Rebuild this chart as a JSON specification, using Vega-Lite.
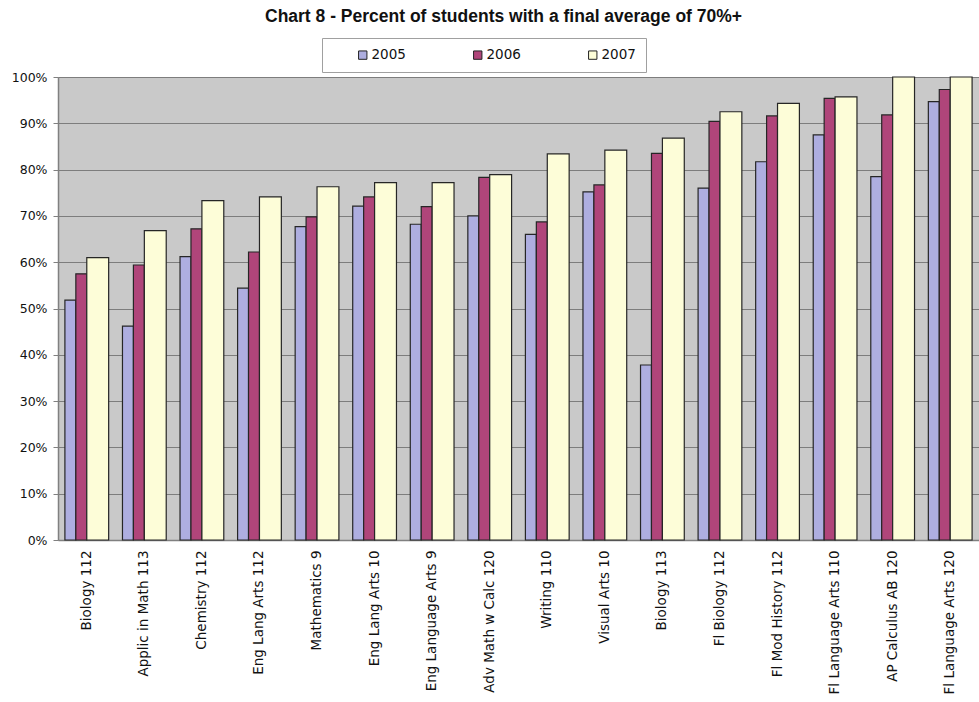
{
  "$schema": "https://vega.github.io/schema/vega-lite/v6.json",
  "autosize": {"type": "none"},
  "padding": {"left": 58, "top": 77, "right": 0, "bottom": 162},
  "width": 921,
  "height": 463,
  "background": "white",
  "title": {
    "text": "Chart 8 - Percent of students with a final average of 70%+",
    "font": "Liberation Sans",
    "fontSize": 17.5,
    "fontWeight": "bold",
    "color": "#111111",
    "anchor": "middle",
    "frame": "group",
    "baseline": "alphabetic",
    "offset": 15,
    "dx": -15,
    "dy": 17
  },
  "config": {
    "view": {"fill": "#c9c9c9", "stroke": null}
  },
  "data": {
    "values": [
      {"course": "Biology 112", "year": "2005", "pct": 51.8},
      {"course": "Biology 112", "year": "2006", "pct": 57.5},
      {"course": "Biology 112", "year": "2007", "pct": 61.0},
      {"course": "Applic in Math 113", "year": "2005", "pct": 46.2},
      {"course": "Applic in Math 113", "year": "2006", "pct": 59.4},
      {"course": "Applic in Math 113", "year": "2007", "pct": 66.8},
      {"course": "Chemistry 112", "year": "2005", "pct": 61.2},
      {"course": "Chemistry 112", "year": "2006", "pct": 67.2},
      {"course": "Chemistry 112", "year": "2007", "pct": 73.3},
      {"course": "Eng Lang Arts 112", "year": "2005", "pct": 54.4},
      {"course": "Eng Lang Arts 112", "year": "2006", "pct": 62.2},
      {"course": "Eng Lang Arts 112", "year": "2007", "pct": 74.1},
      {"course": "Mathematics 9", "year": "2005", "pct": 67.7},
      {"course": "Mathematics 9", "year": "2006", "pct": 69.8},
      {"course": "Mathematics 9", "year": "2007", "pct": 76.3},
      {"course": "Eng Lang Arts 10", "year": "2005", "pct": 72.1},
      {"course": "Eng Lang Arts 10", "year": "2006", "pct": 74.1},
      {"course": "Eng Lang Arts 10", "year": "2007", "pct": 77.2},
      {"course": "Eng Language Arts 9", "year": "2005", "pct": 68.2},
      {"course": "Eng Language Arts 9", "year": "2006", "pct": 72.0},
      {"course": "Eng Language Arts 9", "year": "2007", "pct": 77.2},
      {"course": "Adv Math w Calc 120", "year": "2005", "pct": 70.0},
      {"course": "Adv Math w Calc 120", "year": "2006", "pct": 78.3},
      {"course": "Adv Math w Calc 120", "year": "2007", "pct": 78.9},
      {"course": "Writing 110", "year": "2005", "pct": 66.0},
      {"course": "Writing 110", "year": "2006", "pct": 68.7},
      {"course": "Writing 110", "year": "2007", "pct": 83.4},
      {"course": "Visual Arts 10", "year": "2005", "pct": 75.2},
      {"course": "Visual Arts 10", "year": "2006", "pct": 76.7},
      {"course": "Visual Arts 10", "year": "2007", "pct": 84.2},
      {"course": "Biology 113", "year": "2005", "pct": 37.8},
      {"course": "Biology 113", "year": "2006", "pct": 83.5},
      {"course": "Biology 113", "year": "2007", "pct": 86.8},
      {"course": "Fl Biology 112", "year": "2005", "pct": 76.0},
      {"course": "Fl Biology 112", "year": "2006", "pct": 90.4},
      {"course": "Fl Biology 112", "year": "2007", "pct": 92.5},
      {"course": "Fl Mod History 112", "year": "2005", "pct": 81.7},
      {"course": "Fl Mod History 112", "year": "2006", "pct": 91.6},
      {"course": "Fl Mod History 112", "year": "2007", "pct": 94.3},
      {"course": "Fl Language Arts 110", "year": "2005", "pct": 87.5},
      {"course": "Fl Language Arts 110", "year": "2006", "pct": 95.4},
      {"course": "Fl Language Arts 110", "year": "2007", "pct": 95.7},
      {"course": "AP Calculus AB 120", "year": "2005", "pct": 78.5},
      {"course": "AP Calculus AB 120", "year": "2006", "pct": 91.8},
      {"course": "AP Calculus AB 120", "year": "2007", "pct": 100.0},
      {"course": "Fl Language Arts 120", "year": "2005", "pct": 94.7},
      {"course": "Fl Language Arts 120", "year": "2006", "pct": 97.3},
      {"course": "Fl Language Arts 120", "year": "2007", "pct": 100.0}
    ]
  },
  "encoding": {
    "x": {
      "field": "course",
      "type": "nominal",
      "sort": null,
      "scale": {"paddingInner": 0.24, "paddingOuter": 0.12},
      "axis": {
        "title": null,
        "labelAngle": -90,
        "labelAlign": "right",
        "labelBaseline": "middle",
        "labelPadding": 10,
        "labelFont": "DejaVu Sans",
        "labelFontSize": 13.5,
        "labelColor": "#111111",
        "labelLimit": 300,
        "ticks": false,
        "domainColor": "#808080",
        "domainWidth": 1.5
      }
    },
    "y": {
      "field": "pct",
      "type": "quantitative",
      "scale": {"domain": [0, 100], "nice": false},
      "axis": {
        "title": null,
        "values": [0, 10, 20, 30, 40, 50, 60, 70, 80, 90, 100],
        "labelExpr": "datum.value + '%'",
        "labelFont": "DejaVu Sans",
        "labelFontSize": 12.5,
        "labelColor": "#111111",
        "labelPadding": 6,
        "tickSize": 5,
        "tickColor": "#808080",
        "domainColor": "#808080",
        "domainWidth": 1.5,
        "gridColor": "#7d7d7d",
        "gridWidth": 1.2,
        "gridOpacity": 1
      }
    },
    "color": {
      "field": "year",
      "type": "nominal",
      "scale": {"domain": ["2005", "2006", "2007"], "range": ["#aeaee0", "#b0457a", "#fdfdd8"]},
      "legend": {
        "title": null,
        "orient": "none",
        "legendX": 264,
        "legendY": -39,
        "direction": "horizontal",
        "columns": 3,
        "columnPadding": 41,
        "padding": 10,
        "symbolOffset": 24,
        "strokeColor": "#a0a0a0",
        "fillColor": "white",
        "symbolType": "square",
        "symbolSize": 70,
        "symbolStrokeColor": "#222222",
        "symbolStrokeWidth": 1,
        "labelFont": "DejaVu Sans",
        "labelFontSize": 13.5,
        "labelColor": "#111111",
        "labelOffset": 2,
        "labelExpr": "datum.label == '2007' ? '2007\u00a0\u00a0\u00a0\u00a0\u00a0\u00a0' : datum.label"
      }
    }
  },
  "layer": [
    {
      "transform": [{"filter": "datum.year != '2007'"}],
      "mark": {"type": "bar", "stroke": "#262626", "strokeWidth": 1.2},
      "encoding": {
        "xOffset": {"field": "year", "type": "nominal", "scale": {"domain": ["2005", "2006", "a", "b"], "paddingInner": 0, "paddingOuter": 0}}
      }
    },
    {
      "transform": [{"filter": "datum.year == '2007'"}],
      "mark": {"type": "bar", "stroke": "#262626", "strokeWidth": 1.2},
      "encoding": {
        "xOffset": {"field": "year", "type": "nominal", "scale": {"domain": ["c", "2007"], "paddingInner": 0, "paddingOuter": 0}}
      }
    }
  ],
  "resolve": {"scale": {"xOffset": "independent"}}
}
